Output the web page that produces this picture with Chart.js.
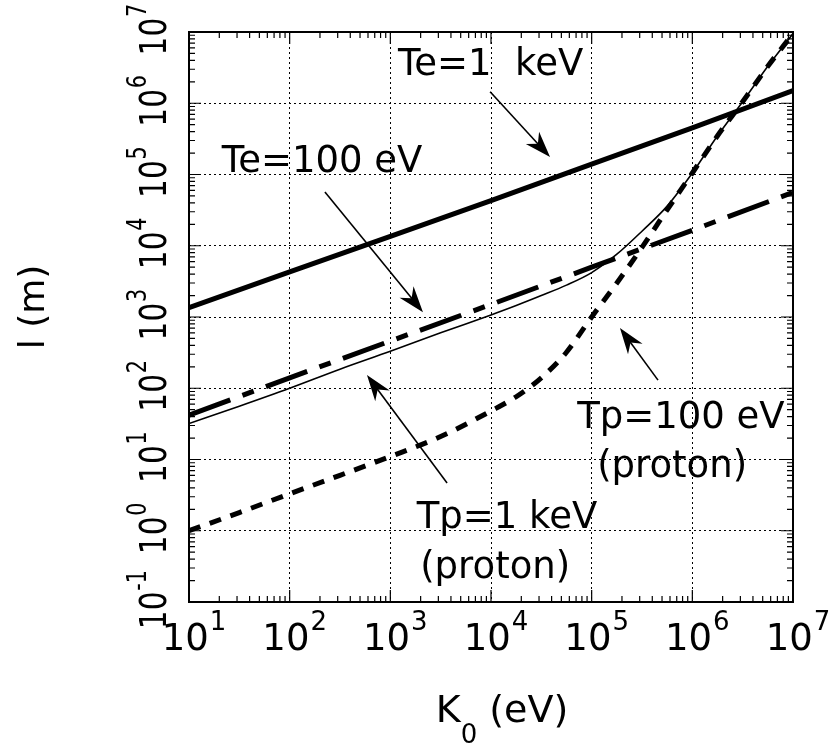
<!DOCTYPE html>
<html>
<head>
<meta charset="utf-8">
<script src="https://cdn.jsdelivr.net/npm/chart.js@4.4.1/dist/chart.umd.min.js"></script>
<style>
  html, body { margin: 0; padding: 0; background: #fff; }
  #wrap { width: 834px; height: 747px; }
</style>
</head>
<body>
<div id="wrap"><canvas id="chart" width="834" height="747"></canvas></div>
<script>
const FONT = "'DejaVu Sans', sans-serif";

// electron curves are straight on log-log, sampled per decade
const K_DECADES = [10, 100, 1e3, 1e4, 1e5, 1e6, 1e7];
const TE_1KEV = [1.35e3, 4.3e3, 1.35e4, 4.3e4, 1.4e5, 4.5e5, 1.5e6];
const TE_100EV = [42, 140, 460, 1.5e3, 5.0e3, 1.65e4, 5.6e4];

// proton curves bend upward above ~10^4 eV, so sample them finer
const K_FINE = [10, 31.6, 100, 316, 1e3, 3.16e3, 1e4, 1.78e4, 3.16e4, 5.62e4, 1e5,
  1.78e5, 3.16e5, 5.62e5, 1e6, 1.78e6, 3.16e6, 5.62e6, 1e7];
const TP_1KEV = [32, 56, 100, 185, 330, 600, 1070, 1450, 2000, 2800, 4200,
  7600, 1.6e4, 3.6e4, 1.05e5, 3.5e5, 1.05e6, 3.3e6, 9.5e6];
const TP_100EV = [1.0, 1.8, 3.3, 6.0, 11, 21, 48, 76, 140, 320, 1000,
  3000, 9500, 3.2e4, 1.05e5, 3.5e5, 1.05e6, 3.3e6, 9.5e6];

// axis decades and their exponent labels
const X_TICKS = [1e1, 1e2, 1e3, 1e4, 1e5, 1e6, 1e7];
const X_EXP = ["1", "2", "3", "4", "5", "6", "7"];
const Y_TICKS = [1e-1, 1, 1e1, 1e2, 1e3, 1e4, 1e5, 1e6, 1e7];
const Y_EXP = ["-1", "0", "1", "2", "3", "4", "5", "6", "7"];

// curve labels: text centred on K, baseline at l
const NOTES = [
  { text: "Te=1  keV", k: 9.9e3, l: 2.5e6 },
  { text: "Te=100 eV", k: 210, l: 1.08e5 },
  { text: "Tp=100 eV", k: 7.7e5, l: 28 },
  { text: "(proton)", k: 6.3e5, l: 5.7 },
  { text: "Tp=1 keV", k: 1.44e4, l: 1.1 },
  { text: "(proton)", k: 1.1e4, l: 0.217 },
];

// pointer arrows, tail -> head, in (K, l)
const ARROWS = [
  { from: [9.8e3, 1.45e6], to: [3.86e4, 1.76e5] },
  { from: [224, 5.7e4], to: [2110, 1170] },
  { from: [4.56e5, 130], to: [1.91e5, 700] },
  { from: [3660, 4.68], to: [586, 153] },
];

const pts = (ks, ls) => ks.map((k, i) => ({ x: k, y: ls[i] }));

function isDecade(v) {
  const e = Math.log10(v);
  return Math.abs(e - Math.round(e)) < 1e-6;
}

// "10" followed by a raised exponent, starting at x0 on the current baseline
function powWidth(ctx, exp) {
  ctx.font = "37px " + FONT;
  const w1 = ctx.measureText("10").width;
  ctx.font = "26px " + FONT;
  return w1 + 1 + ctx.measureText(exp).width;
}
function drawPow(ctx, exp, x0, base) {
  ctx.font = "37px " + FONT;
  ctx.fillText("10", x0, base);
  const w1 = ctx.measureText("10").width;
  ctx.font = "26px " + FONT;
  ctx.fillText(exp, x0 + w1 + 1, base - 20);
}

function drawArrow(ctx, x1, y1, x2, y2) {
  const ang = Math.atan2(y2 - y1, x2 - x1);
  const len = 26, half = 9, notch = 8;
  ctx.lineWidth = 1.6;
  ctx.beginPath();
  ctx.moveTo(x1, y1);
  ctx.lineTo(x2 - Math.cos(ang) * notch * 1.5, y2 - Math.sin(ang) * notch * 1.5);
  ctx.stroke();
  ctx.save();
  ctx.translate(x2, y2);
  ctx.rotate(ang);
  ctx.beginPath();
  ctx.moveTo(0, 0);
  ctx.lineTo(-len, -half);
  ctx.lineTo(-len + notch, 0);
  ctx.lineTo(-len, half);
  ctx.closePath();
  ctx.fill();
  ctx.restore();
}

const frame = {
  id: "frame",
  afterDraw(chart) {
    const { ctx, chartArea: a, scales } = chart;
    const xs = scales.x, ys = scales.y;
    ctx.save();
    ctx.strokeStyle = "#000";
    ctx.fillStyle = "#000";

    // inward tick marks on all four sides
    ctx.lineWidth = 1.2;
    ctx.beginPath();
    X_TICKS.forEach((d) => {
      for (let m = 1; m <= 9; m++) {
        const v = d * m;
        if (v > xs.max * 1.0001) break;
        const p = xs.getPixelForValue(v);
        const len = m === 1 ? 12 : 6;
        ctx.moveTo(p, a.bottom); ctx.lineTo(p, a.bottom - len);
        ctx.moveTo(p, a.top); ctx.lineTo(p, a.top + len);
      }
    });
    Y_TICKS.forEach((d) => {
      for (let m = 1; m <= 9; m++) {
        const v = d * m;
        if (v > ys.max * 1.0001) break;
        const p = ys.getPixelForValue(v);
        const len = m === 1 ? 12 : 6;
        ctx.moveTo(a.left, p); ctx.lineTo(a.left + len, p);
        ctx.moveTo(a.right, p); ctx.lineTo(a.right - len, p);
      }
    });
    ctx.stroke();

    ctx.lineWidth = 2;
    ctx.strokeRect(a.left, a.top, a.right - a.left, a.bottom - a.top);

    // tick labels; the vertical ones are set in a narrower face
    ctx.textAlign = "left";
    ctx.textBaseline = "alphabetic";
    X_TICKS.forEach((v, i) => {
      const p = xs.getPixelForValue(v);
      const w = powWidth(ctx, X_EXP[i]);
      drawPow(ctx, X_EXP[i], p + 5 - w / 2, a.bottom + 48);
    });
    Y_TICKS.forEach((v, i) => {
      const p = ys.getPixelForValue(v);
      const w = powWidth(ctx, Y_EXP[i]);
      ctx.save();
      ctx.translate(a.left - 23, p);
      ctx.rotate(-Math.PI / 2);
      ctx.scale(0.8, 1);
      drawPow(ctx, Y_EXP[i], 3 - w / 2, 0);
      ctx.restore();
    });

    // axis titles
    ctx.save();
    ctx.translate(44, (a.top + a.bottom) / 2 - 10);
    ctx.rotate(-Math.PI / 2);
    ctx.textAlign = "center";
    ctx.font = "36px " + FONT;
    ctx.fillText("l (m)", 0, 0);
    ctx.restore();

    ctx.font = "38px " + FONT;
    const wK = ctx.measureText("K").width;
    const wRest = ctx.measureText(" (eV)").width;
    ctx.font = "26px " + FONT;
    const wSub = ctx.measureText("0").width;
    let tx = (a.left + a.right) / 2 + 11 - (wK + wSub + wRest) / 2;
    const tb = a.bottom + 120;
    ctx.font = "38px " + FONT;
    ctx.fillText("K", tx, tb);
    ctx.font = "26px " + FONT;
    ctx.fillText("0", tx + wK, tb + 21);
    ctx.font = "38px " + FONT;
    ctx.fillText(" (eV)", tx + wK + wSub, tb);

    // curve labels and arrows
    ctx.font = "37px " + FONT;
    ctx.textAlign = "center";
    NOTES.forEach((n) => {
      ctx.fillText(n.text, xs.getPixelForValue(n.k), ys.getPixelForValue(n.l));
    });
    ARROWS.forEach((ar) => {
      drawArrow(ctx,
        xs.getPixelForValue(ar.from[0]), ys.getPixelForValue(ar.from[1]),
        xs.getPixelForValue(ar.to[0]), ys.getPixelForValue(ar.to[1]));
    });
    ctx.restore();
  },
};

const gridOpts = {
  color: (c) => (c.tick && isDecade(c.tick.value) ? "#000" : "rgba(0,0,0,0)"),
  lineWidth: 1,
  drawTicks: false,
};

new Chart(document.getElementById("chart"), {
  type: "line",
  data: {
    datasets: [
      {
        label: "Te=1 keV",
        data: pts(K_DECADES, TE_1KEV),
        borderColor: "#000",
        borderWidth: 5,
        pointRadius: 0,
      },
      {
        label: "Te=100 eV",
        data: pts(K_DECADES, TE_100EV),
        borderColor: "#000",
        borderWidth: 5,
        borderDash: [44, 13, 12, 13],
        pointRadius: 0,
      },
      {
        label: "Tp=1 keV",
        data: pts(K_FINE, TP_1KEV),
        borderColor: "#000",
        borderWidth: 1.6,
        pointRadius: 0,
        cubicInterpolationMode: "monotone",
      },
      {
        label: "Tp=100 eV",
        data: pts(K_FINE, TP_100EV),
        borderColor: "#000",
        borderWidth: 5,
        borderDash: [12, 10],
        pointRadius: 0,
        cubicInterpolationMode: "monotone",
      },
    ],
  },
  options: {
    responsive: false,
    animation: false,
    layout: { padding: { left: 189, right: 41, top: 32, bottom: 145 } },
    plugins: { legend: { display: false }, tooltip: { enabled: false } },
    scales: {
      x: {
        type: "logarithmic",
        min: 10,
        max: 1e7,
        afterBuildTicks: (s) => { s.ticks = X_TICKS.map((v) => ({ value: v })); },
        afterFit: (s) => { s.height = 0; },
        ticks: { display: false },
        grid: gridOpts,
        border: { display: false, dash: [2, 3] },
      },
      y: {
        type: "logarithmic",
        min: 0.1,
        max: 1e7,
        afterBuildTicks: (s) => { s.ticks = Y_TICKS.map((v) => ({ value: v })); },
        afterFit: (s) => { s.width = 0; },
        ticks: { display: false },
        grid: gridOpts,
        border: { display: false, dash: [2, 3] },
      },
    },
  },
  plugins: [frame],
});
</script>
</body>
</html>
